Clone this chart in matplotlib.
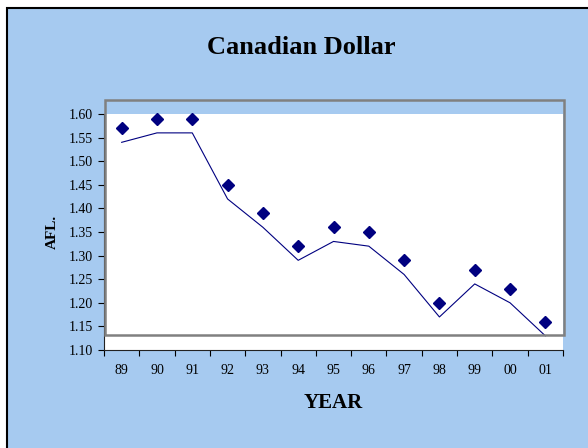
import matplotlib
matplotlib.use("Agg")
import matplotlib.pyplot as plt
from matplotlib.patches import Rectangle
import numpy as np

years = ["89", "90", "91", "92", "93", "94", "95", "96", "97", "98", "99", "00", "01"]
rate_points = [1.57, 1.59, 1.59, 1.45, 1.39, 1.32, 1.36, 1.35, 1.29, 1.20, 1.27, 1.23, 1.16]
rate_line = [1.54, 1.56, 1.56, 1.42, 1.36, 1.29, 1.33, 1.32, 1.26, 1.17, 1.24, 1.20, 1.13]
y_ticks = [1.10, 1.15, 1.20, 1.25, 1.30, 1.35, 1.40, 1.45, 1.50, 1.55, 1.60]

W, H = 588, 448
BLUE = "#A6CAF0"
NAVY = "#000080"
SERIF = ["Liberation Serif", "DejaVu Serif"]

fig = plt.figure(figsize=(W / 100, H / 100), dpi=100, facecolor="white")

# chart area background with a black edge on the top and left
fig.patches.append(Rectangle((6.5 / W, -0.1), 1.2, (H - 8) / H + 0.1,
                             transform=fig.transFigure, facecolor=BLUE,
                             edgecolor="black", linewidth=1.5, zorder=-5))

ax = fig.add_axes([104 / W, (H - 350) / H, (563 - 104) / W, (350 - 114) / H])
ax.set_zorder(1)
ax.set_facecolor("white")

x = np.arange(len(years)) + 0.5
ax.plot(x, rate_line, color=NAVY, linewidth=0.8, zorder=3, clip_on=False)
ax.plot(x, rate_points, linestyle="none", marker="D", markersize=6.6,
        color=NAVY, zorder=4, clip_on=False)

ax.set_xlim(0, len(years))
ax.set_ylim(1.10, 1.60)
ax.set_yticks(y_ticks)
ax.set_yticklabels([f"{v:.2f}" for v in y_ticks], fontfamily=SERIF, fontsize=10)
ax.set_xticks(np.arange(len(years) + 1), minor=False)
ax.set_xticklabels([])
ax.set_xticks(x, minor=True)
ax.set_xticklabels(years, minor=True, fontfamily=SERIF, fontsize=10)
ax.tick_params(axis="x", which="minor", length=0, pad=10)
ax.tick_params(axis="x", which="major", length=4.5, width=0.8, direction="out")
ax.tick_params(axis="y", length=4, width=0.8, direction="out", pad=4)

for side in ("top", "right"):
    ax.spines[side].set_visible(False)
for side in ("left", "bottom"):
    ax.spines[side].set_color("#222222")
    ax.spines[side].set_linewidth(0.8)

# gray plot frame
fig.patches.append(Rectangle((105 / W, (H - 335) / H), (564 - 105) / W, (335 - 100) / H,
                             transform=fig.transFigure, facecolor="none",
                             edgecolor="#808080", linewidth=1.8, zorder=5))

fig.text(301 / W, (H - 48) / H, "Canadian Dollar", ha="center", va="center",
         fontfamily=SERIF, fontsize=19, fontweight="bold")
fig.text(333 / W, (H - 403) / H, "YEAR", ha="center", va="center",
         fontfamily=SERIF, fontsize=15, fontweight="bold")
fig.text(52 / W, (H - 232) / H, "AFL.", ha="center", va="center", rotation=90,
         fontfamily=SERIF, fontsize=11, fontweight="bold")

fig.savefig("out.png", dpi=100, facecolor=fig.get_facecolor())
